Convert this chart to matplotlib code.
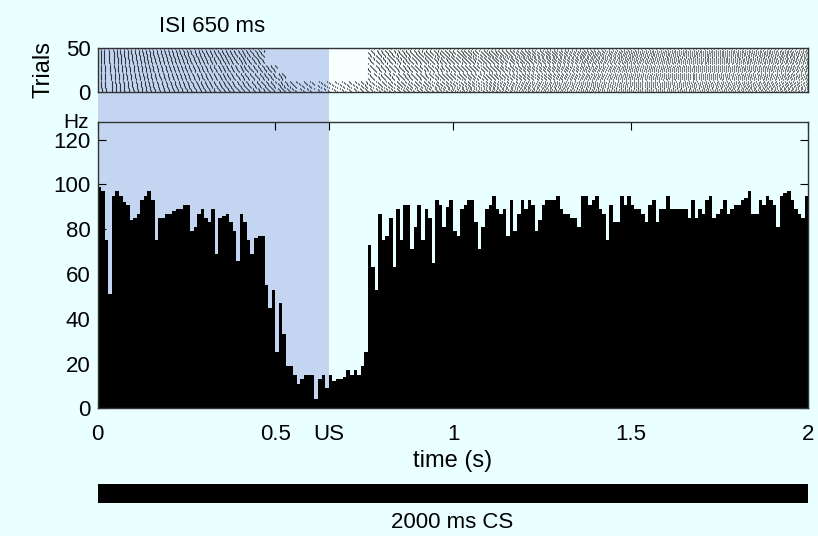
import numpy as np
import matplotlib
matplotlib.use('Agg')
import matplotlib.pyplot as plt
import matplotlib.transforms as mtransforms
from matplotlib.patches import Rectangle

# PSTH, 10 ms bins from CS onset (Hz)
rate_hz = [
    99, 97, 75, 51, 95, 97, 95, 92, 91, 84,
    85, 87, 93, 95, 97, 93, 75, 85, 85, 87,
    87, 88, 89, 89, 91, 91, 79, 81, 87, 89,
    85, 83, 89, 69, 85, 86, 87, 83, 79, 66,
    87, 83, 75, 69, 76, 77, 77, 55, 45, 53,
    25, 47, 33, 19, 19, 15, 11, 13, 15, 15,
    15, 4, 13, 15, 9, 15, 12, 13, 13, 14,
    17, 15, 17, 15, 19, 25, 73, 63, 53, 87,
    75, 77, 85, 63, 89, 75, 91, 91, 71, 81,
    91, 75, 89, 85, 65, 93, 91, 81, 90, 93,
    79, 77, 89, 91, 93, 93, 83, 71, 81, 89,
    91, 95, 89, 87, 89, 77, 93, 79, 87, 93,
    89, 93, 91, 79, 84, 91, 93, 93, 93, 95,
    89, 87, 87, 85, 85, 81, 95, 95, 91, 93,
    95, 89, 87, 75, 91, 83, 83, 95, 91, 95,
    91, 89, 89, 87, 83, 91, 93, 83, 89, 89,
    95, 89, 89, 89, 89, 89, 85, 93, 85, 89,
    87, 93, 95, 85, 87, 89, 93, 87, 89, 91,
    91, 93, 94, 97, 87, 87, 93, 91, 95, 93,
    91, 81, 95, 96, 97, 93, 89, 87, 85, 95,
]
bin_width = 0.01
us_time = 0.65
cs_duration = 2.0
n_trials = 50

# trial bands that pause in the raster: (first trial, last trial, pause start, pause end)
pause_bands = [(13, 21, 0.53, 0.76), (21, 30, 0.51, 0.76), (30, 50, 0.47, 0.76)]

xticks = [0, 0.5, us_time, 1, 1.5, 2]
xtick_labels = ['0', '0.5', 'US', '1', '1.5', '2']
yticks = [0, 20, 40, 60, 80, 100, 120]

bg = '#EAFFFF'
shade = '#C3D5F1'

plt.rcParams['font.family'] = ['Liberation Sans', 'DejaVu Sans']
plt.rcParams['font.size'] = 16

# spike trains rebuilt from the PSTH: regular firing, rate drifting a bit across trials
t = np.arange(0, cs_duration, 0.001)
rate_t = np.repeat(np.array(rate_hz, float), 10)
paused = np.zeros((n_trials, t.size), bool)
for lo, hi, t0, t1 in pause_bands:
    paused[lo:hi, (t >= t0) & (t < t1)] = True
n_paused = paused.sum(0)
boost = np.minimum(n_trials / (n_trials - n_paused), 6)
spikes = []
for j in range(n_trials):
    r = np.where(paused[j], 0, np.minimum(rate_t * boost, 110))
    r = r * (0.9 + 0.2 * j / n_trials)
    count = np.cumsum(r * 0.001)
    idx = np.nonzero(np.diff(np.floor(count)) > 0)[0] + 1
    spikes.append(t[idx])

fig = plt.figure(figsize=(8.18, 5.36), dpi=100, facecolor=bg)
left, width = 0.1194, 0.8688
ax = fig.add_axes([left, 0.2382, width, 0.5347], facecolor='none')
ax_r = fig.add_axes([left, 0.8284, width, 0.0826], facecolor='none')
ax_cs = fig.add_axes([left, 0.0616, width, 0.0354])

# shaded CS-US interval running through both panels
tr = mtransforms.blended_transform_factory(ax.transData, fig.transFigure)
fig.add_artist(Rectangle((0, 0.2382), us_time, 0.9110 - 0.2382, transform=tr,
                         facecolor=shade, edgecolor='none', zorder=-1))

# raster
ax_r.axvspan(us_time, cs_duration, color='#F8FFFF', lw=0, zorder=0)
ax_r.eventplot(spikes, lineoffsets=np.arange(n_trials) + 0.5, linelengths=0.9,
               linewidths=0.8, colors='k')
ax_r.set_xlim(0, cs_duration)
ax_r.set_ylim(0, n_trials)
ax_r.set_xticks([])
ax_r.set_yticks([0, 50])
ax_r.tick_params(length=0, pad=5)
ax_r.set_ylabel('Trials', fontsize=17, labelpad=8)

# PSTH
edges = np.arange(len(rate_hz)) * bin_width
ax.bar(edges, rate_hz, width=bin_width, align='edge', color='k', linewidth=0)
ax.set_xlim(0, cs_duration)
ax.set_ylim(0, 128)
ax.set_xticks(xticks, labels=xtick_labels)
ax.set_yticks(yticks)
ax.tick_params(axis='both', direction='in', top=True, right=True, length=6)
ax.tick_params(axis='x', pad=11)
ax.tick_params(axis='y', pad=5)
ax.set_xlabel('time (s)', fontsize=17, labelpad=4)

for a in (ax, ax_r):
    for s in a.spines.values():
        s.set_color('#333333')
        s.set_linewidth(1.0)

# CS bar
ax_cs.barh(0, cs_duration, height=1, left=0, color='k')
ax_cs.set_xlim(0, cs_duration)
ax_cs.set_ylim(-0.5, 0.5)
ax_cs.axis('off')

fig.text(76 / 818, 1 - 123 / 536, 'Hz', ha='center', va='center', fontsize=15)
fig.text(212 / 818, 1 - 27 / 536, 'ISI 650 ms', ha='center', va='center', fontsize=16)
fig.text(452 / 818, 1 - 522 / 536, '2000 ms CS', ha='center', va='center', fontsize=16)

fig.savefig('out.png', dpi=100, facecolor=bg)
